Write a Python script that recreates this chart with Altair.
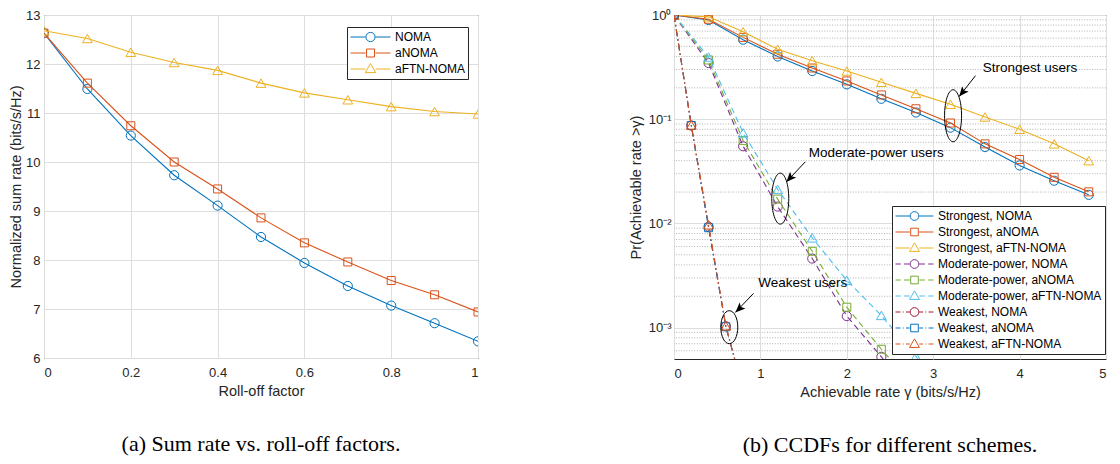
import altair as alt
import pandas as pd

# ---------------- data: (a) sum rate vs roll-off ----------------
rolloff = [0.0, 0.1, 0.2, 0.3, 0.4, 0.5, 0.6, 0.7, 0.8, 0.9, 1.0]
sum_noma = [12.63, 11.49, 10.54, 9.73, 9.11, 8.47, 7.94, 7.47, 7.07, 6.71, 6.34]
sum_anoma = [12.63, 11.61, 10.74, 10.00, 9.45, 8.86, 8.35, 7.96, 7.58, 7.29, 6.94]
sum_aftn = [12.68, 12.52, 12.24, 12.03, 11.87, 11.61, 11.41, 11.27, 11.13, 11.03, 10.98]
left_names = ["NOMA", "aNOMA", "aFTN-NOMA"]

# ---------------- data: (b) CCDFs ----------------
rate_strong = [0.0, 0.4, 0.8, 1.2, 1.6, 2.0, 2.4, 2.8, 3.2, 3.6, 4.0, 4.4, 4.8]
ccdf_strong_noma = [1.0, 0.895, 0.58, 0.40, 0.29, 0.216, 0.157, 0.116, 0.083, 0.054, 0.036, 0.0257, 0.0188]
ccdf_strong_anoma = [1.0, 0.91, 0.61, 0.42, 0.31, 0.233, 0.171, 0.126, 0.092, 0.058, 0.041, 0.0277, 0.0201]
ccdf_strong_aftn = [1.0, 0.96, 0.69, 0.47, 0.364, 0.29, 0.226, 0.177, 0.139, 0.105, 0.080, 0.058, 0.040]

rate_mod = [0.0, 0.4, 0.8, 1.2, 1.6, 2.0, 2.4, 2.8, 3.2]
ccdf_mod_noma = [1.0, 0.346, 0.055, 0.0145, 0.0046, 0.00129, 0.000525, 0.0002]
ccdf_mod_anoma = [1.0, 0.37, 0.0626, 0.0171, 0.0054, 0.00157, 0.00062, 0.00026]
ccdf_mod_aftn = [1.0, 0.395, 0.074, 0.0212, 0.00727, 0.00284, 0.00131, 0.00053, 0.0002]

rate_weak = [0.0, 0.2, 0.4, 0.6, 0.8]
ccdf_weak_noma = [1.0, 0.087, 0.0093, 0.00103, 0.00025]
ccdf_weak_anoma = [1.0, 0.087, 0.0091, 0.00102, 0.00025]
ccdf_weak_aftn = [1.0, 0.088, 0.0097, 0.00104, 0.00025]

right_names = [
    "Strongest, NOMA", "Strongest, aNOMA", "Strongest, aFTN-NOMA",
    "Moderate-power, NOMA", "Moderate-power, aNOMA", "Moderate-power, aFTN-NOMA",
    "Weakest, NOMA", "Weakest, aNOMA", "Weakest, aFTN-NOMA",
]

# axis ticks of panel (b)
y_major = [0.001, 0.01, 0.1, 1.0]
y_minor = [m * 10.0 ** e for e in (-4, -3, -2, -1) for m in range(2, 10) if m * 10.0 ** e > 5.01e-4]

# annotations (data coordinates)
ann_text = ["Strongest users", "Moderate-power users", "Weakest users"]
ann_text_x = [4.12, 2.34, 1.49]
ann_text_y = [0.313, 0.0475, 0.00266]
ell_x = [3.23, 1.23, 0.64]
ell_y = [0.108, 0.0173, 0.00101]
arr_x0 = [3.49, 1.52, 0.92]
arr_y0 = [0.262, 0.039, 0.00213]
arr_x1 = [3.30, 1.30, 0.71]
arr_y1 = [0.165, 0.025, 0.0014]

# ---------------- styles ----------------
FONT = "Liberation Sans"
TXT = "#262626"
BLUE, ORANGE, YELLOW = "#0072BD", "#D95319", "#EDB120"
PURPLE, GREEN, CYAN, DRED = "#7E2F8E", "#77AC30", "#4DBEEE", "#A2142F"
DASH = [6, 4]
DASHDOT = [7, 3, 1.5, 3]
SHAPES = {"o": "circle", "s": "square", "^": "triangle-up"}
MSIZE = {"o": 84, "s": 64, "^": 95}


def legend_path(marker, style):
    if style == "solid":
        segs = [(-1, -0.25), (0.25, 1)]
    elif style == "dash":
        segs = [(-1, -0.72), (-0.55, -0.25), (0.25, 0.55), (0.72, 1)]
    else:
        segs = [(-1, -0.74), (-0.62, -0.57), (-0.45, -0.25), (0.25, 0.45), (0.57, 0.62), (0.74, 1)]
    p = "".join(f"M{a},0L{b},0" for a, b in segs)
    if marker == "o":
        p += "M0.23,0A0.23,0.23 0 1,1 -0.23,0A0.23,0.23 0 1,1 0.23,0"
    elif marker == "s":
        p += "M-0.2,-0.2L0.2,-0.2L0.2,0.2L-0.2,0.2Z"
    else:
        p += "M0,-0.27L0.26,0.18L-0.26,0.18Z"
    return p


def long_df(xs_list, ys_list, names):
    rows = []
    for xs, ys, n in zip(xs_list, ys_list, names):
        for xv, yv in zip(xs, ys):
            rows.append({"x": xv, "y": yv, "series": n})
    return pd.DataFrame(rows)


def series_layers(df, name, color, dash, marker, xenc, yenc):
    base = alt.Chart(df).transform_filter(alt.datum.series == name)
    kw = dict(color=color, strokeWidth=1.1, clip=True)
    if dash:
        kw["strokeDash"] = dash
    line = base.mark_line(**kw).encode(x=xenc, y=yenc, order="x:Q")
    pts = base.mark_point(shape=SHAPES[marker], filled=False, color=color,
                          size=MSIZE[marker], strokeWidth=1, opacity=1,
                          clip=True).encode(x=xenc, y=yenc)
    return [line, pts]


def legend_layer(df, names, colors, paths, lx, ly, sym, field):
    leg_props = dict(title=None, orient="none", legendX=lx, legendY=ly,
                     symbolSize=sym * sym, symbolStrokeWidth=1, symbolOpacity=1,
                     clipHeight=14, rowPadding=2, padding=3, labelOffset=4, labelLimit=300,
                     labelFont=FONT, labelFontSize=12, labelColor="black",
                     fillColor="white", strokeColor=TXT, symbolFillColor="transparent")
    d = df.rename(columns={"series": field})
    return alt.Chart(d).transform_filter("false").mark_point(
        filled=False, opacity=1, strokeWidth=1).encode(
        color=alt.Color(f"{field}:N", scale=alt.Scale(domain=names, range=colors),
                        legend=alt.Legend(**leg_props)),
        shape=alt.Shape(f"{field}:N", scale=alt.Scale(domain=names, range=paths),
                        legend=alt.Legend(**leg_props)),
    )


CAPTION = dict(orient="bottom", anchor="middle", font="Liberation Serif", fontSize=22,
               fontWeight="normal", color="black", offset=36)

# ---------------- panel (a) ----------------
df_a = long_df([rolloff] * 3, [sum_noma, sum_anoma, sum_aftn], left_names)
xs_a = alt.Scale(domain=[0, 1], nice=False)
ys_a = alt.Scale(domain=[6, 13], nice=False, zero=False)
xa = alt.X("x:Q", scale=xs_a, axis=alt.Axis(values=[0, 0.2, 0.4, 0.6, 0.8, 1.0], format="~g",
                                            title="Roll-off factor", labelPadding=8, titlePadding=5))
ya = alt.Y("y:Q", scale=ys_a, axis=alt.Axis(values=list(range(6, 14)), title="Normalized sum rate (bits/s/Hz)",
                                            labelPadding=4, titlePadding=2))
left_colors = [BLUE, ORANGE, YELLOW]
left_markers = ["o", "s", "^"]
layers_a = []
for n, c, m in zip(left_names, left_colors, left_markers):
    layers_a += series_layers(df_a, n, c, None, m, xa, ya)
layers_a.append(legend_layer(df_a, left_names, left_colors,
                             [legend_path(m, "solid") for m in left_markers], 303, 12, 40, "scheme_a"))

left = alt.layer(*layers_a).properties(
    width=434, height=343,
    title=alt.TitleParams("(a) Sum rate vs. roll-off factors.", **CAPTION))

# ---------------- panel (b) ----------------
df_b = long_df(
    [rate_strong] * 3 + [rate_mod] * 3 + [rate_weak] * 3,
    [ccdf_strong_noma, ccdf_strong_anoma, ccdf_strong_aftn,
     ccdf_mod_noma, ccdf_mod_anoma, ccdf_mod_aftn,
     ccdf_weak_noma, ccdf_weak_anoma, ccdf_weak_aftn],
    right_names)

W_B, H_B = 432, 344
xs_b = alt.Scale(domain=[0, 5], nice=False)
ys_b = alt.Scale(type="log", domain=[5e-4, 1], nice=False)
label_expr = ("abs(datum.value-1)<1e-9 ? '10\u2070' : abs(datum.value-0.1)<1e-9 ? '10\u207b\u00b9' : "
              "abs(datum.value-0.01)<1e-9 ? '10\u207b\u00b2' : abs(datum.value-0.001)<1e-9 ? '10\u207b\u00b3' : ''")
axis_xb = alt.Axis(values=[0, 1, 2, 3, 4, 5], format="d",
                   title="Achievable rate \u03b3 (bits/s/Hz)", labelPadding=8, titlePadding=5)
axis_yb = alt.Axis(values=y_major, labelExpr=label_expr, labelOverlap=False,
                   title="Pr(Achievable rate >\u03b3)", labelPadding=3, titlePadding=5)
xb = alt.X("x:Q", scale=xs_b, axis=axis_xb)
yb = alt.Y("y:Q", scale=ys_b, axis=axis_yb)

layers_b = []
# dotted minor grid of the log axis
layers_b.append(alt.Chart(pd.DataFrame({"v": y_minor})).mark_rule(
    color="#b4b4b4", strokeWidth=1, strokeDash=[1, 1.6]).encode(
    y=alt.Y("v:Q", scale=ys_b, axis=axis_yb)))

right_colors = [BLUE, ORANGE, YELLOW, PURPLE, GREEN, CYAN, DRED, BLUE, ORANGE]
right_markers = ["o", "s", "^"] * 3
right_styles = ["solid"] * 3 + ["dash"] * 3 + ["dashdot"] * 3
dash_of = {"solid": None, "dash": DASH, "dashdot": DASHDOT}
for n, c, m, s in zip(right_names, right_colors, right_markers, right_styles):
    layers_b += series_layers(df_b, n, c, dash_of[s], m, xb, yb)

# annotations
df_ann = pd.DataFrame({"tx": ann_text_x, "ty": ann_text_y, "text": ann_text,
                       "ex": ell_x, "ey": ell_y,
                       "x0": arr_x0, "y0": arr_y0, "x1": arr_x1, "y1": arr_y1})
xn = lambda f: alt.X(f"{f}:Q", scale=xs_b, axis=axis_xb)
yn = lambda f: alt.Y(f"{f}:Q", scale=ys_b, axis=axis_yb)
layers_b.append(alt.Chart(df_ann).mark_text(font=FONT, fontSize=13.5, color="black").encode(
    x=xn("tx"), y=yn("ty"), text="text:N"))
ell_r = [(8.5, 26.0), (8.5, 25.5), (8.5, 16.5)]
arr_angle = [219, 223, 226]
for i in range(3):
    rx, ry = ell_r[i]
    a = rx / ry
    path = f"M{a:.3f},0A{a:.3f},1 0 1,1 {-a:.3f},0A{a:.3f},1 0 1,1 {a:.3f},0"
    one = alt.Chart(df_ann.iloc[[i]])
    layers_b.append(one.mark_point(shape=path, size=(2 * ry) ** 2, filled=False, color="black",
                                   strokeWidth=1, opacity=1).encode(x=xn("ex"), y=yn("ey")))
    layers_b.append(one.mark_rule(color="black", strokeWidth=1).encode(
        x=xn("x0"), y=yn("y0"), x2="x1:Q", y2="y1:Q"))
    layers_b.append(one.mark_point(shape="M0,0L0.42,1L0,0.78L-0.42,1Z", size=400, filled=True,
                                   color="black", opacity=1, angle=arr_angle[i]).encode(
        x=xn("x1"), y=yn("y1")))

layers_b.append(legend_layer(df_b, right_names, right_colors,
                             [legend_path(m, s) for m, s in zip(right_markers, right_styles)],
                             W_B - 214, 191, 38, "scheme_b"))

right = alt.layer(*layers_b).properties(
    width=W_B, height=H_B,
    title=alt.TitleParams("(b) CCDFs for different schemes.", **CAPTION))

chart = alt.hconcat(left, right, spacing=148).resolve_scale(
    color="independent", shape="independent", x="independent", y="independent"
).resolve_legend(color="independent", shape="independent").properties(
    padding={"left": 0, "top": 0, "right": 0, "bottom": 0}
).configure_axis(
    labelFont=FONT, titleFont=FONT, labelFontSize=13, titleFontSize=14.5,
    labelColor=TXT, titleColor=TXT, titleFontWeight="normal",
    ticks=False, domain=False, gridColor="#dedede", gridWidth=1,
).configure_view(stroke=TXT, strokeWidth=1)

chart.save("out.html", embed_options={"renderer": "svg", "actions": False})
